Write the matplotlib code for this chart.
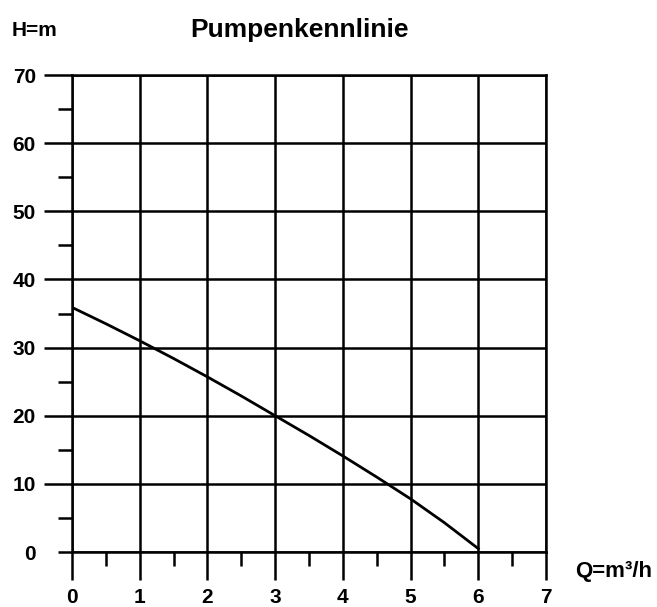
import numpy as np
import matplotlib.pyplot as plt

# Pumpenkennlinie: Förderhöhe H (m) über Förderstrom Q (m³/h)
q_values = [0, 0.5, 1, 1.5, 2, 2.5, 3, 3.5, 4, 4.5, 5, 5.5, 6]
h_values = [35.9, 33.5, 31.0, 28.4, 25.7, 22.9, 20.0, 17.1, 14.1, 11.0, 7.8, 4.3, 0.5]

x_ticks = [0, 1, 2, 3, 4, 5, 6, 7]
y_ticks = [0, 10, 20, 30, 40, 50, 60, 70]

plt.rcParams['font.family'] = ['Liberation Sans', 'DejaVu Sans']
plt.rcParams['font.weight'] = 'bold'

fig = plt.figure(figsize=(6.57, 6.07), dpi=100)
ax = fig.add_axes([0.1096, 0.0906, 0.831 - 0.1096, 0.8764 - 0.0906])

ax.plot(q_values, h_values, color='black', lw=2.0, zorder=3)

ax.set_xlim(0, 7)
ax.set_ylim(0, 70)
ax.set_xticks(x_ticks)
ax.set_yticks(y_ticks)
ax.set_xticks(np.arange(0.5, 7, 1), minor=True)
ax.set_yticks(np.arange(5, 70, 10), minor=True)
ax.set_xticklabels([str(v) for v in x_ticks], fontsize=15, fontweight='bold')
ax.set_yticklabels([str(v) for v in y_ticks], fontsize=15, fontweight='bold')

ax.grid(True, which='major', color='black', lw=1.8)
ax.tick_params(which='major', direction='out', length=20, width=1.8, pad=6)
ax.tick_params(which='minor', direction='out', length=10, width=1.8)
ax.yaxis.get_major_ticks()[0].tick1line.set_markersize(10)

for s in ax.spines.values():
    s.set_linewidth(1.8)

fig.text(12 / 657, 1 - 30 / 607, 'H=m', fontsize=15, fontweight='bold', va='center', ha='left')
fig.text(300 / 657, 1 - 30 / 607, 'Pumpenkennlinie', fontsize=19, fontweight='bold', va='center', ha='center')
fig.text(575 / 657, 1 - 572 / 607, 'Q=m³/h', fontsize=16, fontweight='bold', va='center', ha='left')

fig.savefig('out.png', dpi=100, facecolor='white')
